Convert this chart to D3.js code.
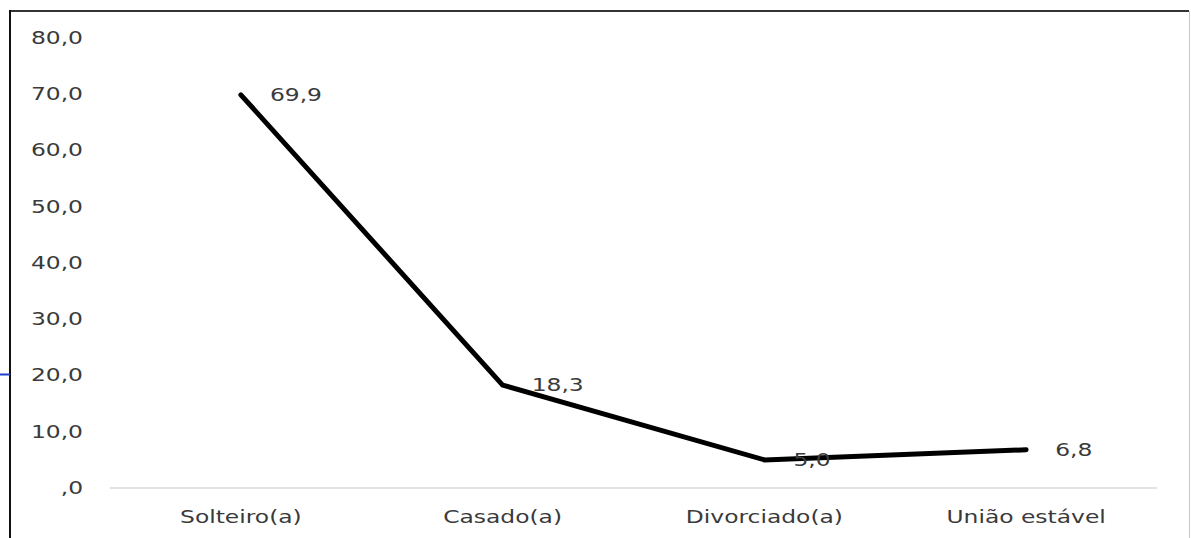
<!DOCTYPE html>
<html>
<head>
<meta charset="utf-8">
<script src="https://cdn.jsdelivr.net/npm/d3@7"></script>
<style>
  html, body { margin: 0; padding: 0; background: #fff; }
  svg { display: block; }
  text { font-family: "DejaVu Sans", Verdana, sans-serif; fill: #3a3a3a; }
</style>
</head>
<body>
<script>
// Estado civil (%)
const categories = ["Solteiro(a)", "Casado(a)", "Divorciado(a)", "União estável"];
const values = [69.9, 18.3, 5.0, 6.8];
const yTicks = [0, 10, 20, 30, 40, 50, 60, 70, 80];

const W = 1191, H = 538;
const plot = { left: 110, right: 1157, top: 38, bottom: 488 };
const fontSize = 18;
const stretch = 1.3; // horizontal stretch of the typeface

const fmt = d => d === 0 ? ",0" : d.toFixed(1).replace(".", ",");

const svg = d3.select("body").append("svg")
  .attr("width", W).attr("height", H);

// Outer frame
svg.append("line").attr("x1", 10).attr("x2", 1189).attr("y1", 11).attr("y2", 11)
  .attr("stroke", "#333").attr("stroke-width", 2);
svg.append("line").attr("x1", 10).attr("x2", 10).attr("y1", 10).attr("y2", H)
  .attr("stroke", "#111").attr("stroke-width", 2);
svg.append("line").attr("x1", 1189.5).attr("x2", 1189.5).attr("y1", 11).attr("y2", H)
  .attr("stroke", "#c8c8c8").attr("stroke-width", 1);

const x = d3.scaleBand().domain(categories).range([plot.left, plot.right]);
const y = d3.scaleLinear().domain([0, 80]).range([plot.bottom, plot.top]);

// Blue marker on the left edge
svg.append("line").attr("x1", 0).attr("x2", 10).attr("y1", y(20) - 1).attr("y2", y(20) - 1)
  .attr("stroke", "#1a3fd0").attr("stroke-width", 2);

// Y axis (labels only)
const yAxis = svg.append("g")
  .attr("transform", `translate(${plot.left},0)`)
  .call(d3.axisLeft(y).tickValues(yTicks).tickFormat(fmt).tickSize(0).tickPadding(0));
yAxis.select(".domain").remove();
yAxis.selectAll("text")
  .attr("x", -27 / stretch)
  .attr("dy", "0.3em")
  .attr("transform", `scale(${stretch},1)`)
  .style("font-size", fontSize + "px")
  .style("font-family", "DejaVu Sans")
  .attr("fill", "#3a3a3a");

// X axis baseline and category labels
svg.append("line")
  .attr("x1", plot.left).attr("x2", plot.right)
  .attr("y1", y(0)).attr("y2", y(0))
  .attr("stroke", "#d9d9d9").attr("stroke-width", 1.5);

const xAxis = svg.append("g")
  .attr("transform", `translate(0,${plot.bottom})`)
  .call(d3.axisBottom(x).tickSize(0).tickPadding(0));
xAxis.select(".domain").remove();
xAxis.selectAll(".tick text")
  .attr("y", 29).attr("dy", "0.35em")
  .attr("transform", `scale(${stretch},1)`)
  .style("font-size", fontSize + "px")
  .style("font-family", "DejaVu Sans")
  .attr("fill", "#3a3a3a");

// Line series
const pts = categories.map((c, i) => ({ c, v: values[i] }));
const line = d3.line().x(d => x(d.c) + x.bandwidth() / 2).y(d => y(d.v));
svg.append("path")
  .datum(pts)
  .attr("d", line)
  .attr("fill", "none")
  .attr("stroke", "#000")
  .attr("stroke-width", 5)
  .attr("stroke-linejoin", "miter")
  .attr("stroke-linecap", "round");

// Data labels
svg.append("g").selectAll("text")
  .data(pts)
  .join("text")
  .attr("transform", d => `translate(${x(d.c) + x.bandwidth() / 2 + 29},${y(d.v)}) scale(${stretch},1)`)
  .attr("dy", "0.35em")
  .style("font-size", fontSize + "px")
  .attr("fill", "#3a3a3a")
  .text(d => fmt(d.v));
</script>
</body>
</html>
